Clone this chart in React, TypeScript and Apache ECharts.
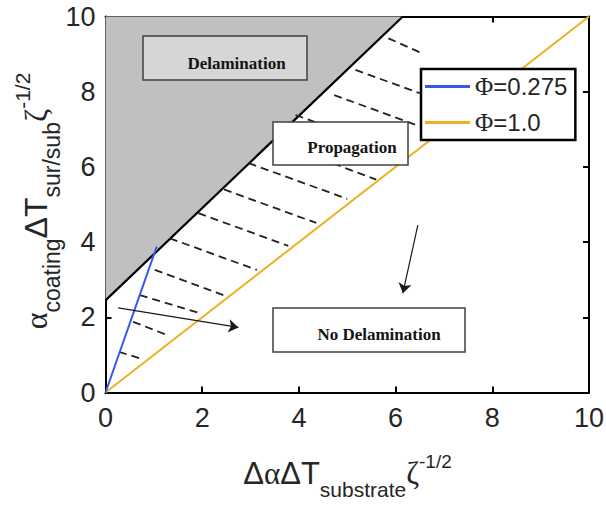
import React, { useEffect, useRef } from "react";
import * as echarts from "echarts";

// ---- data ----
const axisTicks = [0, 2, 4, 6, 8, 10];
const boundaryLine = [[0, 2.45], [6.15, 10]]; // delamination / propagation boundary
const phi0275Line = [[0, 0], [1.06, 3.88]];
const phi1Line = [[0, 0], [10, 10]];
const hatchStarts = [
  [0.28, 1.08], [0.57, 1.88], [0.71, 2.59], [1.02, 3.26], [1.33, 4.1], [1.92, 4.77],
  [2.45, 5.4], [2.96, 6.1], [3.45, 6.7], [3.93, 7.38], [4.73, 7.91], [5.17, 8.58], [5.85, 9.42],
];
const hatchEnds = [
  [0.71, 0.91], [1.27, 1.53], [1.95, 2.11], [2.44, 2.59], [3.13, 3.26], [3.78, 3.9],
  [4.36, 4.51], [5.0, 5.15], [5.6, 5.66], [6.2, 6.32], [6.5, 7.08], [6.5, 7.96], [6.5, 9.05],
];
const arrowStarts = [[0.26, 2.25], [6.46, 4.45]];
const arrowEnds = [[2.75, 1.73], [6.15, 2.64]];
const legendNames = ["\u03A6=0.275", "\u03A6=1.0"];
const regionLabels = ["Delamination", "Propagation", "No Delamination"];
const xTitleParts = ["\u0394", "\u03B1", "\u0394T", "substrate", "\u03B6", "-1/2"];
const yTitleParts = ["\u03B1", "coating", "\u0394T", "sur/sub", "\u03B6", "-1/2"];

const SANS = '"Liberation Sans", Arial, sans-serif';
const SERIF = '"Liberation Serif", "Times New Roman", serif';
const AX = "#262626";

let measureCtx: CanvasRenderingContext2D | null = null;
function measure(text: string, font: string) {
  if (!measureCtx) measureCtx = document.createElement("canvas").getContext("2d");
  measureCtx!.font = font;
  return measureCtx!.measureText(text).width;
}

type Piece = { t: string; size: number; fam: string; dy: number };
function titleGroup(pieces: Piece[], cx: number, cy: number, rotation: number) {
  const fonts = pieces.map((p) => `${p.size}px ${p.fam}`);
  const widths = pieces.map((p, i) => measure(p.t, fonts[i]));
  const total = widths.reduce((a, b) => a + b, 0);
  let x = -total / 2;
  const children = pieces.map((p, i) => {
    const el = {
      type: "text",
      x,
      y: p.dy - 0.345 * p.size,
      style: {
        text: p.t,
        font: fonts[i],
        fill: AX,
        align: "left",
        verticalAlign: "middle",
        textAlign: "left",
        textVerticalAlign: "middle",
      },
    };
    x += widths[i];
    return el;
  });
  return { type: "group", x: cx, y: cy, rotation, z: 100, children };
}

export default function App() {
  const ref = useRef<HTMLDivElement>(null);
  useEffect(() => {
    const chart = echarts.init(ref.current!, null, { renderer: "svg" });
    const baseAxis = (pos: string, show: boolean, margin: number) => ({
      type: "value",
      position: pos,
      min: 0,
      max: 10,
      interval: 2,
      axisLine: { show: true, onZero: false, lineStyle: { color: "#000", width: 2 } },
      axisTick: { show: true, inside: true, length: 6, lineStyle: { color: "#000", width: 2 } },
      axisLabel: show
        ? { show: true, fontSize: 27, fontFamily: SANS, color: AX, margin, formatter: (v: number) => (axisTicks.includes(v) ? String(v) : "") }
        : { show: false },
      splitLine: { show: false },
    });
    const hatchData = hatchStarts.map((s, i) => ({ coords: [s, hatchEnds[i]] }));
    const arrowData = arrowStarts.map((s, i) => ({ coords: [s, arrowEnds[i]] }));

    const xTitle = titleGroup(
      [
        { t: xTitleParts[0], size: 31, fam: SANS, dy: 0 },
        { t: xTitleParts[1], size: 31, fam: SERIF, dy: 0 },
        { t: xTitleParts[2], size: 31, fam: SANS, dy: 0 },
        { t: xTitleParts[3], size: 21, fam: SANS, dy: 13 },
        { t: xTitleParts[4], size: 31, fam: SERIF, dy: 0 },
        { t: xTitleParts[5], size: 19, fam: SANS, dy: -16 },
      ],
      347.5,
      484,
      0
    );
    const yTitle = titleGroup(
      [
        { t: yTitleParts[0], size: 32, fam: SERIF, dy: 0 },
        { t: yTitleParts[1], size: 23, fam: SANS, dy: 13 },
        { t: yTitleParts[2], size: 32, fam: SANS, dy: 0 },
        { t: yTitleParts[3], size: 23, fam: SANS, dy: 13 },
        { t: yTitleParts[4], size: 32, fam: SERIF, dy: 0 },
        { t: yTitleParts[5], size: 21, fam: SANS, dy: -17 },
      ],
      47,
      201,
      Math.PI / 2
    );

    chart.setOption({
      animation: false,
      grid: { left: 105.5, top: 16.5, right: 17, bottom: 113.5, outerBoundsMode: "none", containLabel: false },
      xAxis: [baseAxis("bottom", true, 12), baseAxis("top", false, 0)],
      yAxis: [baseAxis("left", true, 10), baseAxis("right", false, 0)],
      legend: {
        data: legendNames,
        orient: "vertical",
        left: 421,
        top: 69,
        icon: "rect",
        itemWidth: 45,
        itemHeight: 3,
        itemGap: 11,
        itemTextGap: 4,
        padding: [5, 8, 5, 4],
        borderColor: "#000",
        borderWidth: 2.5,
        backgroundColor: "#fff",
        formatter: (name: string) => `{g|${name.slice(0, 1)}}{t|${name.slice(1)}}`,
        textStyle: {
          fontSize: 24,
          fontFamily: SANS,
          color: AX,
          rich: {
            g: { fontSize: 25, fontFamily: SERIF, color: AX },
            t: { fontSize: 24, fontFamily: SANS, color: AX },
          },
        },
        z: 50,
      },
      series: [
        {
          type: "line",
          name: "boundary",
          data: boundaryLine,
          symbol: "none",
          lineStyle: { color: "#000", width: 2.2 },
          areaStyle: { color: "#c0c0c0", origin: "end", opacity: 1 },
          z: 1,
        },
        {
          type: "lines",
          coordinateSystem: "cartesian2d",
          data: hatchData,
          lineStyle: { color: "#222", width: 1.8, type: [8, 5], opacity: 1 },
          z: 2,
        },
        {
          type: "line",
          name: legendNames[1],
          data: phi1Line,
          symbol: "none",
          lineStyle: { color: "#EDB120", width: 2 },
          itemStyle: { color: "#EDB120" },
          z: 3,
        },
        {
          type: "line",
          name: legendNames[0],
          data: phi0275Line,
          symbol: "none",
          lineStyle: { color: "#3b55f0", width: 2 },
          itemStyle: { color: "#3b55f0" },
          z: 4,
        },
        {
          type: "lines",
          coordinateSystem: "cartesian2d",
          data: arrowData,
          symbol: ["none", "arrow"],
          symbolSize: [0, 10],
          lineStyle: { color: "#1a1a1a", width: 1.2, opacity: 1 },
          z: 5,
        },
      ],
      graphic: [
        { type: "rect", z: 100, shape: { x: 143, y: 36, width: 164, height: 44 }, style: { fill: "#d6d6d6", stroke: "#404040", lineWidth: 1.5 } },
        { type: "text", z: 101, style: { text: regionLabels[0], x: 236.5, y: 63, font: `bold 17px ${SERIF}`, fill: "#141414", align: "center", verticalAlign: "middle", textAlign: "center", textVerticalAlign: "middle" } },
        { type: "rect", z: 100, shape: { x: 273, y: 122, width: 135, height: 43 }, style: { fill: "#fff", stroke: "#404040", lineWidth: 1.5 } },
        { type: "text", z: 101, style: { text: regionLabels[1], x: 352, y: 147, font: `bold 17px ${SERIF}`, fill: "#141414", align: "center", verticalAlign: "middle", textAlign: "center", textVerticalAlign: "middle" } },
        { type: "rect", z: 100, shape: { x: 273, y: 308, width: 192, height: 44 }, style: { fill: "#fff", stroke: "#404040", lineWidth: 1.5 } },
        { type: "text", z: 101, style: { text: regionLabels[2], x: 379, y: 334, font: `bold 17px ${SERIF}`, fill: "#141414", align: "center", verticalAlign: "middle", textAlign: "center", textVerticalAlign: "middle" } },
        xTitle,
        yTitle,
      ],
    });
    return () => chart.dispose();
  }, []);
  return <div ref={ref} style={{ position: "absolute", left: 0, top: 0, width: 606, height: 506 }} />;
}
